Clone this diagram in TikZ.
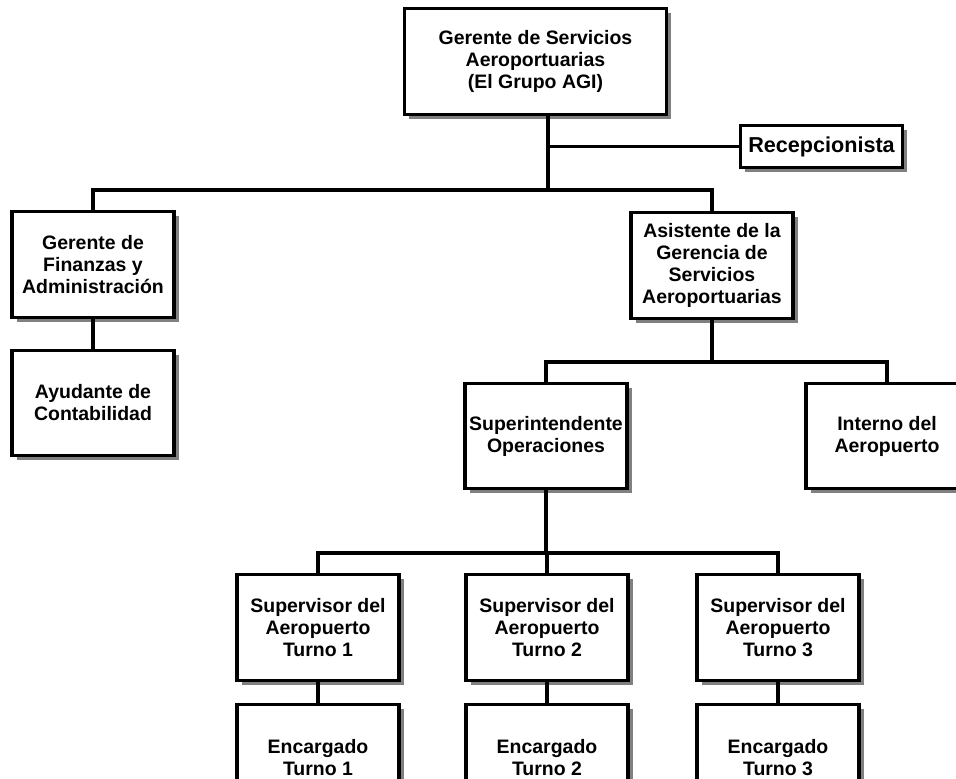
\documentclass[tikz,border=0pt]{standalone}
\usepackage{fontspec}
\setmainfont{Liberation Sans}
\usetikzlibrary{shadows}
\tikzset{orgbox/.style={draw=black,fill=white,line width=2.3pt,align=center,
    font=\bfseries\fontsize{14.6}{16.5}\selectfont,inner sep=2pt,
    minimum width=121.5pt,minimum height=79pt,
    drop shadow={shadow xshift=3.4pt,shadow yshift=-3.4pt,fill=black!50,opacity=1}},
  smallbox/.style={orgbox,minimum height=32pt,font=\bfseries\fontsize{16.2}{18}\selectfont},
  orgline/.style={line width=2.3pt}}
\begin{document}
\begin{tikzpicture}[x=0.75pt,y=-0.75pt]
\path[use as bounding box] (0,0) rectangle (956,778);
% top level
\node[orgbox,minimum width=197pt,minimum height=80pt] (gerente) at (535.5,61.5) {Gerente de Servicios\\Aeroportuarias\\(El Grupo AGI)};
\node[smallbox] (recep) at (821.5,146.5) {Recepcionista};
\coordinate (bus1) at (548,190);
\draw[orgline] (gerente.south -| bus1) -- (bus1);
\draw[orgline] (gerente.south -| bus1) |- (recep.west);
% second level
\node[orgbox] (finanzas) at (93,264.5) {Gerente de\\Finanzas y\\Administraci\'on};
\node[orgbox] (ayudante) at (93,403) {Ayudante de\\Contabilidad};
\node[orgbox] (asistente) at (712,265.5) {Asistente de la\\Gerencia de\\Servicios\\Aeroportuarias};
\draw[orgline] (bus1) -| (finanzas.north);
\draw[orgline] (bus1) -| (asistente.north);
\draw[orgline] (finanzas) -- (ayudante);
% third level
\node[orgbox] (superint) at (546,436) {Superintendente\\Operaciones};
\node[orgbox] (interno) at (887,436) {Interno del\\Aeropuerto};
\coordinate (bus2) at (712,362);
\draw[orgline] (asistente.south) -- (bus2);
\draw[orgline] (bus2) -| (superint.north);
\draw[orgline] (bus2) -| (interno.north);
% shifts
\coordinate (bus3) at (546,553);
\draw[orgline] (superint.south) -- (bus3);
\foreach \n/\x in {1/318,2/547,3/778} {
  \node[orgbox] (sup\n) at (\x,627.5) {Supervisor del\\Aeropuerto\\Turno \n};
  \node[orgbox] (enc\n) at (\x,757.5) {Encargado\\Turno \n};
  \draw[orgline] (bus3) -| (sup\n.north);
  \draw[orgline] (sup\n) -- (enc\n);
}
\end{tikzpicture}
\end{document}
